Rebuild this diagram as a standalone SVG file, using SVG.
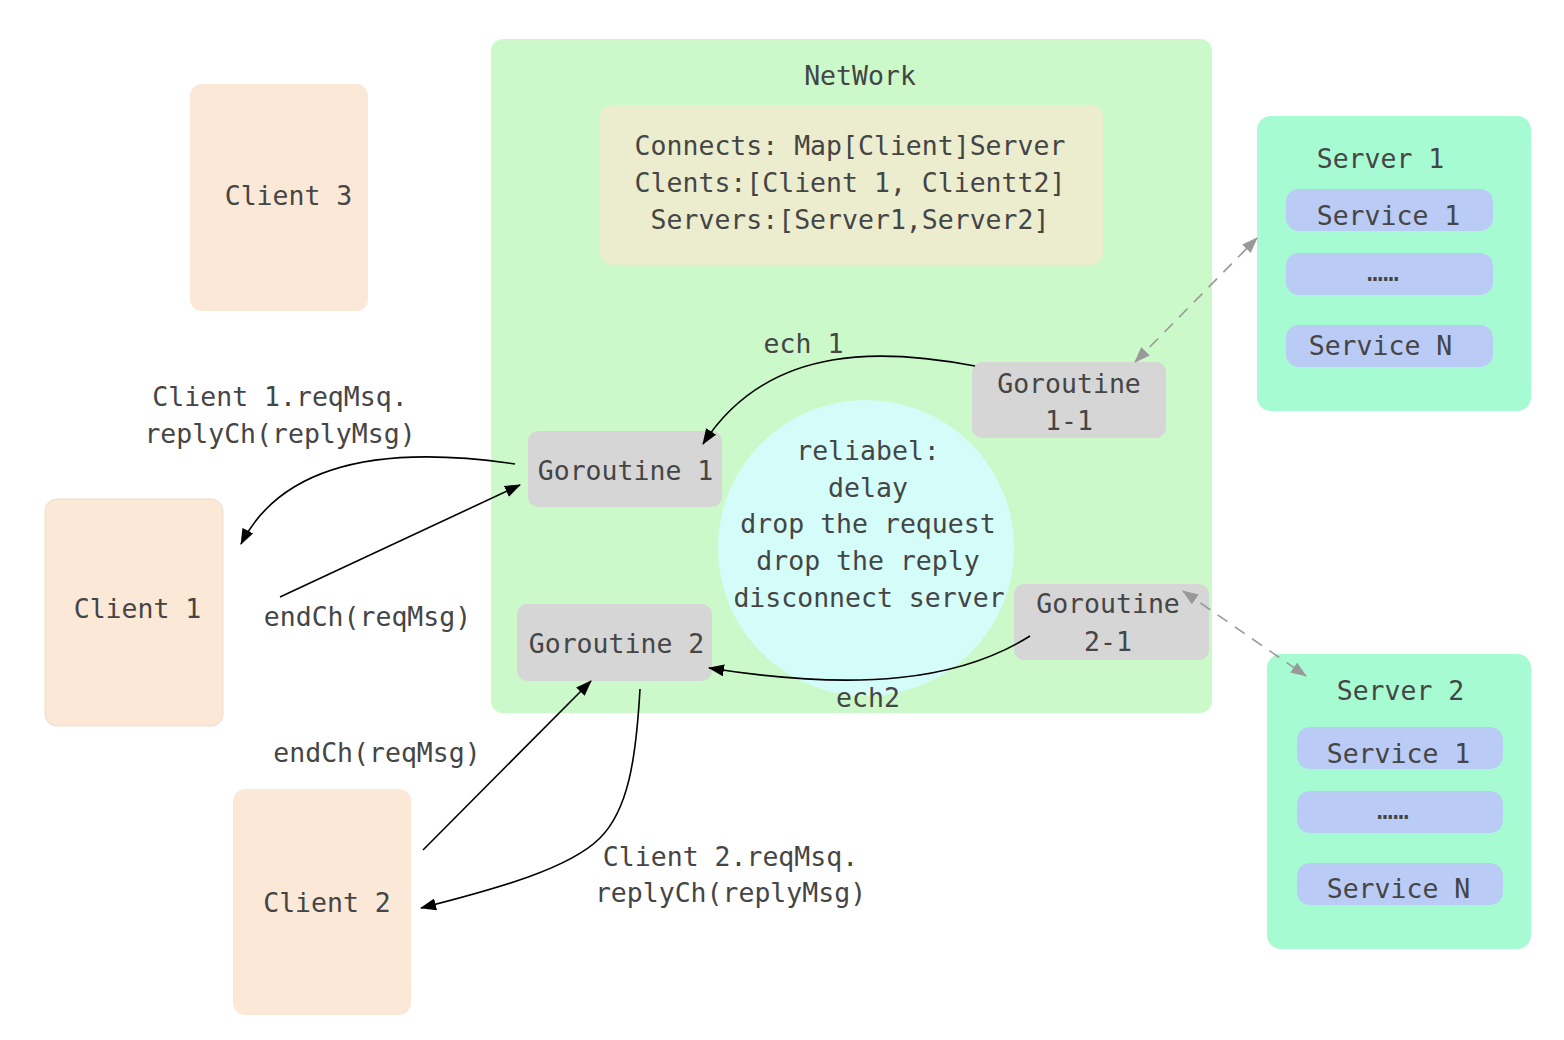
<svg xmlns="http://www.w3.org/2000/svg" width="1564" height="1040" viewBox="0 0 1564 1040">
<defs>
<style>
text{font-family:"DejaVu Sans Mono","Liberation Mono",monospace;font-size:26.5px;fill:#454545;text-anchor:middle}
.client{fill:#FBE8D6}
.gor{fill:#D6D6D6}
.server{fill:#A7FBD3}
.svc{fill:#BACBF6}
.arr{fill:none;stroke:#000;stroke-width:1.6}
.dash{fill:none;stroke:#999;stroke-width:1.6;stroke-dasharray:12 9}
</style>
<marker id="ah" viewBox="0 0 16 12" refX="15" refY="6" markerWidth="16" markerHeight="12" markerUnits="userSpaceOnUse" orient="auto">
<path d="M0,0 L16,6 L0,12 Z" fill="#000"/>
</marker>
<marker id="gh" viewBox="0 0 16 12" refX="15" refY="6" markerWidth="16" markerHeight="12" markerUnits="userSpaceOnUse" orient="auto-start-reverse">
<path d="M0,0 L16,6 L0,12 Z" fill="#999"/>
</marker>
</defs>
<rect width="1564" height="1040" fill="#fff"/>

<g id="network">
<rect x="491" y="39" width="721" height="674" rx="12" fill="#CBF9C9"/>
<text x="860" y="85">NetWork</text>
</g>
<g id="info">
<rect x="600" y="105" width="503" height="160" rx="12" fill="#EBEDCE"/>
<text x="850" y="155">Connects: Map[Client]Server</text>
<text x="850" y="192">Clents:[Client 1, Clientt2]</text>
<text x="850" y="229">Servers:[Server1,Server2]</text>
</g>
<g id="reliable">
<ellipse cx="866" cy="548" rx="148" ry="148" fill="#D4FDFA"/>
<text x="868" y="460">reliabel:</text>
<text x="868" y="497">delay</text>
<text x="868" y="533">drop the request</text>
<text x="868" y="570">drop the reply</text>
<text x="869" y="607">disconnect server</text>
</g>
<g id="goroutine1">
<rect class="gor" x="528" y="431" width="194" height="76" rx="10"/>
<text x="625.5" y="480">Goroutine 1</text>
</g>
<g id="goroutine1-1">
<rect class="gor" x="972" y="362" width="194" height="76" rx="10"/>
<text x="1069" y="393">Goroutine</text>
<text x="1069" y="430">1-1</text>
</g>
<g id="goroutine2">
<rect class="gor" x="517" y="604" width="195" height="77" rx="10"/>
<text x="616.5" y="653">Goroutine 2</text>
</g>
<g id="goroutine2-1">
<rect class="gor" x="1014" y="584" width="195" height="76" rx="10"/>
<text x="1108" y="613">Goroutine</text>
<text x="1108" y="651">2-1</text>
</g>
<g id="client3">
<rect class="client" x="190" y="84" width="178" height="227" rx="12"/>
<text x="288.5" y="205">Client 3</text>
</g>
<g id="client1">
<rect class="client" x="45" y="499" width="178" height="227" rx="12" stroke="#EEDCC8" stroke-width="1"/>
<text x="137.5" y="618">Client 1</text>
</g>
<g id="client2">
<rect class="client" x="233" y="789" width="178" height="226" rx="12"/>
<text x="327" y="912">Client 2</text>
</g>
<g id="server1">
<rect class="server" x="1257" y="116" width="274" height="295" rx="14"/>
<text x="1380.5" y="168">Server 1</text>
<rect class="svc" x="1286" y="189" width="207" height="42" rx="13"/>
<text x="1388.5" y="225">Service 1</text>
<rect class="svc" x="1286" y="253" width="207" height="42" rx="13"/>
<text x="1383" y="281">……</text>
<rect class="svc" x="1286" y="325" width="207" height="42" rx="13"/>
<text x="1380.5" y="355">Service N</text>
</g>
<g id="server2">
<rect class="server" x="1267" y="654" width="264" height="295" rx="14"/>
<text x="1400.5" y="700">Server 2</text>
<rect class="svc" x="1297" y="727" width="206" height="42" rx="13"/>
<text x="1398.5" y="763">Service 1</text>
<rect class="svc" x="1297" y="791" width="206" height="42" rx="13"/>
<text x="1393" y="819">……</text>
<rect class="svc" x="1297" y="863" width="206" height="42" rx="13"/>
<text x="1398.5" y="898">Service N</text>
</g>

<g id="connectors">
<path class="arr" d="M975,366 C890,350 770,340 703,444" marker-end="url(#ah)"/>
<path class="arr" d="M515,464 C420,450 290,448 241,544" marker-end="url(#ah)"/>
<path class="arr" d="M280,597 L520,485" marker-end="url(#ah)"/>
<path class="arr" d="M1030,636 C960,680 860,692 709,668" marker-end="url(#ah)"/>
<path class="arr" d="M423,850 L591,681" marker-end="url(#ah)"/>
<path class="arr" d="M640,689 C636,760 628,810 600,838 C570,868 500,888 421,908" marker-end="url(#ah)"/>
<path class="dash" d="M1135,362 L1257,238" marker-start="url(#gh)" marker-end="url(#gh)"/>
<path class="dash" d="M1183,591 L1306,676" marker-start="url(#gh)" marker-end="url(#gh)"/>
</g>
<g id="labels">
<text x="803.5" y="353">ech 1</text>
<text x="868" y="707">ech2</text>
<text x="280" y="406">Client 1.reqMsq.</text>
<text x="280" y="443">replyCh(replyMsg)</text>
<text x="367.5" y="626">endCh(reqMsg)</text>
<text x="377" y="762">endCh(reqMsg)</text>
<text x="730.5" y="866">Client 2.reqMsq.</text>
<text x="730.5" y="902">replyCh(replyMsg)</text>
</g>
</svg>
